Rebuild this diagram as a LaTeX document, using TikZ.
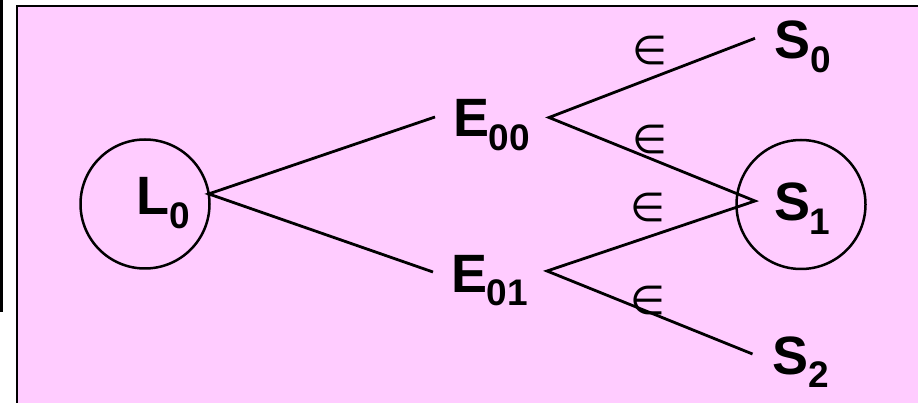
\documentclass[tikz,border=0pt]{standalone}
\usepackage{fontspec}
\setmainfont{Liberation Sans}
\newfontfamily\symfont{DejaVu Sans}
\definecolor{bgpink}{HTML}{FFCCFF}
\newcommand{\lab}[2]{#1\kern-0.5pt\raisebox{-13.5pt}{\fontsize{37}{37}\selectfont #2}}
\tikzset{
  lbl/.style={inner sep=0pt, outer sep=0pt, anchor=base west, font=\fontsize{54}{54}\selectfont\bfseries},
  eps/.style={inner sep=0pt, outer sep=0pt, font=\symfont\fontsize{40}{40}\selectfont},
  edge/.style={line width=2.8pt, line join=miter},
  ring/.style={circle, draw, line width=2.5pt, minimum size=129pt, inner sep=0pt, outer sep=0pt}
}
\begin{document}
\begin{tikzpicture}[x=1pt,y=-1pt]
\useasboundingbox (0,0) rectangle (918,403);
\clip (0,0) rectangle (918,403);
% background panel
\fill[black] (0,0) rectangle (3,312);
\draw[fill=bgpink, line width=2.5pt] (16.8,6.2) rectangle (940,430);
% circles
\node[ring] (L0c) at (145,204) {};
\node[ring] (S1c) at (801,204.5) {};
% labels
\node[lbl] (L0) at (136.8,215) {\lab{L}{0}};
\node[lbl] (E00) at (453.1,137) {\lab{E}{00}};
\node[lbl] (E01) at (451.1,292) {\lab{E}{01}};
\node[lbl] (S0) at (774.5,59) {\lab{S}{0}};
\node[lbl] (S1) at (774.2,221) {\lab{S}{1}};
\node[lbl] (S2) at (772.5,374) {\lab{S}{2}};
% epsilon labels
\node[eps] (ea) at (650,50.5) {∈};
\node[eps] (eb) at (650,139) {∈};
\node[eps] (ec) at (648,207) {∈};
\node[eps] (ed) at (647.5,300) {∈};
% connector end points
\coordinate (e00in) at (435,117);
\coordinate (e01in) at (433,272);
\coordinate (e00out) at (549,117.5);
\coordinate (e01out) at (547,271);
\coordinate (s0in) at (755,38.3);
\coordinate (s1in) at (755,201);
\coordinate (s2in) at (752.5,354);
% connectors
\draw[edge] (e00in) -- (L0c.9) -- (e01in);
\draw[edge] (s0in) -- (e00out) -- (s1in) -- (e01out) -- (s2in);
\end{tikzpicture}
\end{document}
